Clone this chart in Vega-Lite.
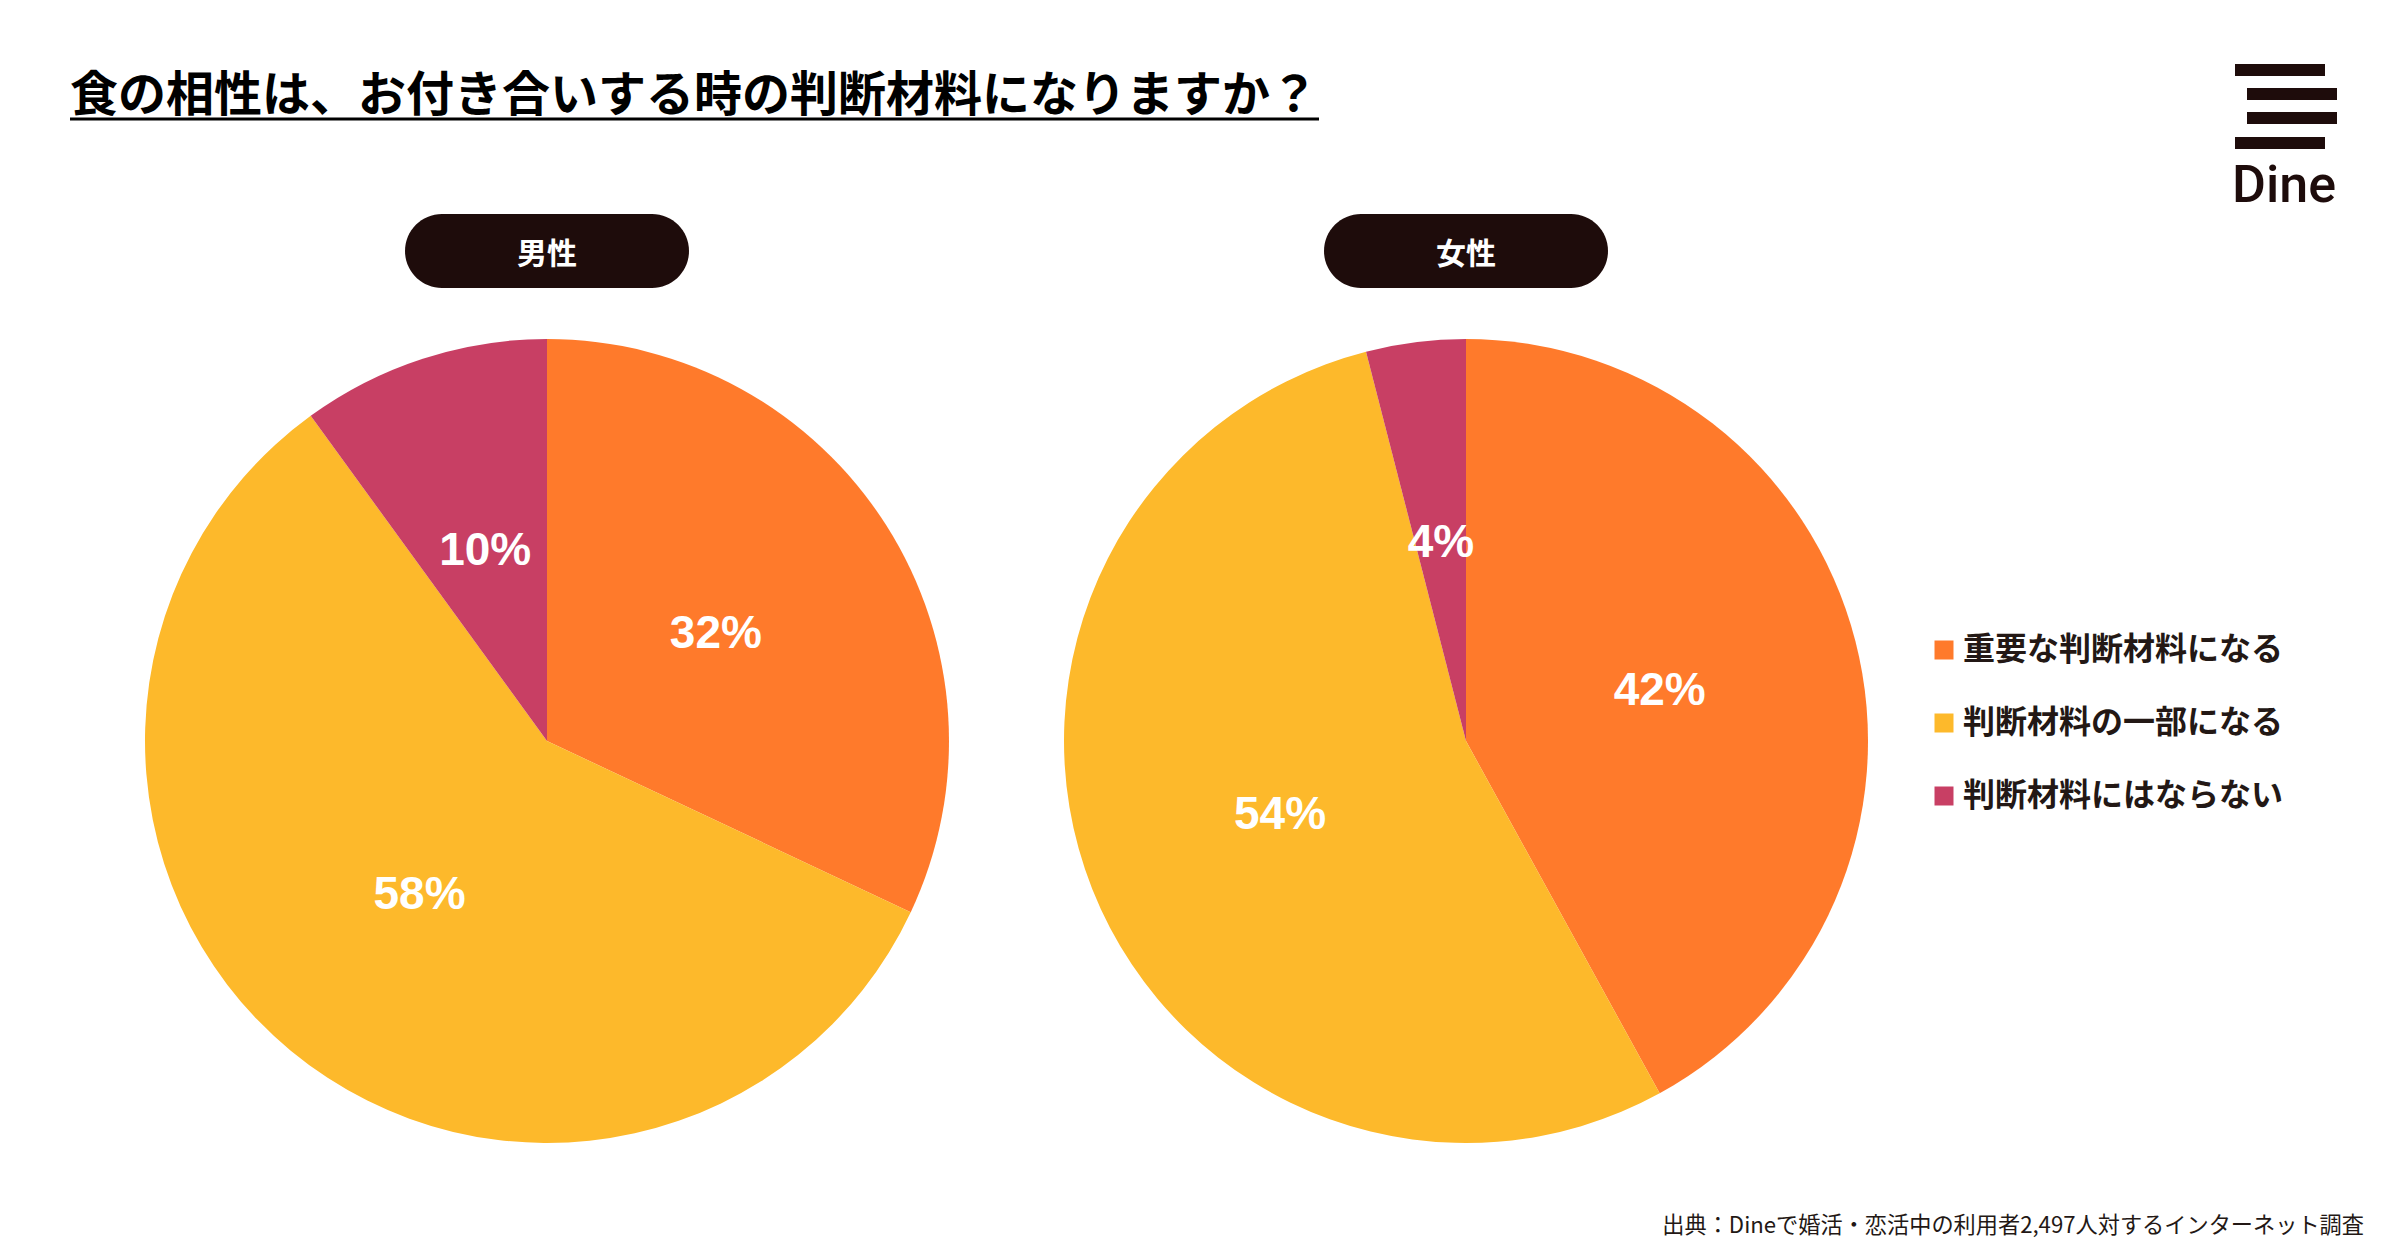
{
  "$schema": "https://vega.github.io/schema/vega-lite/v6.json",
  "width": 2400,
  "height": 1260,
  "padding": 0,
  "autosize": {"type": "none"},
  "background": "#ffffff",
  "config": {"view": {"stroke": null}},
  "data": {
    "values": [
      {"gender": "男性", "answer": "重要な判断材料になる", "share": 0.32},
      {"gender": "男性", "answer": "判断材料の一部になる", "share": 0.58},
      {"gender": "男性", "answer": "判断材料にはならない", "share": 0.10},
      {"gender": "女性", "answer": "重要な判断材料になる", "share": 0.42},
      {"gender": "女性", "answer": "判断材料の一部になる", "share": 0.54},
      {"gender": "女性", "answer": "判断材料にはならない", "share": 0.04}
    ]
  },
  "layer": [
    {
      "transform": [{"filter": "datum.gender === '男性'"}],
      "mark": {"type": "arc", "outerRadius": 402},
      "encoding": {
        "x": {"field": "gender", "type": "nominal", "scale": {"type": "point", "domain": ["男性", "女性"], "range": [547, 1466], "padding": 0}, "axis": null},
        "y": {"field": "gender", "type": "nominal", "scale": {"type": "point", "domain": ["男性", "女性"], "range": [741, 741], "padding": 0}, "axis": null},
        "theta": {"field": "share", "type": "quantitative", "stack": true, "scale": {"domain": [0, 1]}},
        "order": {"field": "answer", "sort": "descending"},
        "color": {
          "field": "answer", "type": "nominal",
          "scale": {"domain": ["重要な判断材料になる", "判断材料の一部になる", "判断材料にはならない"], "range": ["#FF7A2B", "#FDB92B", "#C83F64"]},
          "legend": {
            "orient": "none", "legendX": 1928, "legendY": 634, "title": null,
            "symbolType": "square", "symbolSize": 361, "symbolStrokeWidth": 0,
            "labelFont": "Noto Sans CJK JP", "labelFontSize": 32, "labelFontWeight": "bold", "labelColor": "#231815",
            "labelOffset": 3, "rowPadding": 41, "padding": 0, "labelLimit": 600
          }
        }
      }
    },
    {
      "transform": [{"filter": "datum.gender === '女性'"}],
      "mark": {"type": "arc", "outerRadius": 402},
      "encoding": {
        "x": {"field": "gender", "type": "nominal"},
        "y": {"field": "gender", "type": "nominal"},
        "theta": {"field": "share", "type": "quantitative", "stack": true},
        "order": {"field": "answer", "sort": "descending"},
        "color": {"field": "answer", "type": "nominal"}
      }
    },
    {
      "transform": [{"filter": "datum.gender === '男性'"}],
      "mark": {"type": "text", "radius": 200, "font": "Liberation Sans", "fontWeight": "bold", "fontSize": 46, "color": "#ffffff", "align": "center", "baseline": "middle"},
      "encoding": {
        "x": {"field": "gender", "type": "nominal"},
        "y": {"field": "gender", "type": "nominal"},
        "theta": {"field": "share", "type": "quantitative", "stack": true},
        "order": {"field": "answer", "sort": "descending"},
        "detail": {"field": "answer", "type": "nominal"},
        "text": {"field": "share", "type": "quantitative", "format": ".0%"}
      }
    },
    {
      "transform": [{"filter": "datum.gender === '女性'"}],
      "mark": {"type": "text", "radius": 200, "font": "Liberation Sans", "fontWeight": "bold", "fontSize": 46, "color": "#ffffff", "align": "center", "baseline": "middle"},
      "encoding": {
        "x": {"field": "gender", "type": "nominal"},
        "y": {"field": "gender", "type": "nominal"},
        "theta": {"field": "share", "type": "quantitative", "stack": true},
        "order": {"field": "answer", "sort": "descending"},
        "detail": {"field": "answer", "type": "nominal"},
        "text": {"field": "share", "type": "quantitative", "format": ".0%"}
      }
    },
    {
      "data": {"values": [{"gender": "男性"}, {"gender": "女性"}]},
      "mark": {"type": "bar", "width": 284, "cornerRadius": 37, "color": "#1E0C0B"},
      "encoding": {
        "x": {"field": "gender", "type": "nominal"},
        "y": {"value": 214},
        "y2": {"value": 288}
      }
    },
    {
      "data": {"values": [{"gender": "男性"}, {"gender": "女性"}]},
      "mark": {"type": "text", "font": "Noto Sans CJK JP", "fontWeight": "bold", "fontSize": 30, "color": "#ffffff", "align": "center", "baseline": "middle"},
      "encoding": {
        "x": {"field": "gender", "type": "nominal"},
        "y": {"value": 255},
        "text": {"field": "gender"}
      }
    },
    {
      "data": {"values": [{"t": "食の相性は、お付き合いする時の判断材料になりますか？"}]},
      "mark": {"type": "text", "font": "Noto Sans CJK JP", "fontWeight": "bold", "fontSize": 48, "color": "#000000", "align": "left", "baseline": "middle"},
      "encoding": {"x": {"value": 70}, "y": {"value": 97}, "text": {"field": "t"}}
    },
    {
      "data": {"values": [{}]},
      "mark": {"type": "rule", "color": "#000000", "strokeWidth": 3},
      "encoding": {"x": {"value": 70}, "x2": {"value": 1319}, "y": {"value": 119}}
    },
    {
      "data": {"values": [{}]},
      "mark": {"type": "rect", "color": "#1E0C0B"},
      "encoding": {"x": {"value": 2235}, "x2": {"value": 2325}, "y": {"value": 64}, "y2": {"value": 76}}
    },
    {
      "data": {"values": [{}]},
      "mark": {"type": "rect", "color": "#1E0C0B"},
      "encoding": {"x": {"value": 2247}, "x2": {"value": 2337}, "y": {"value": 88}, "y2": {"value": 100}}
    },
    {
      "data": {"values": [{}]},
      "mark": {"type": "rect", "color": "#1E0C0B"},
      "encoding": {"x": {"value": 2247}, "x2": {"value": 2337}, "y": {"value": 112}, "y2": {"value": 124}}
    },
    {
      "data": {"values": [{}]},
      "mark": {"type": "rect", "color": "#1E0C0B"},
      "encoding": {"x": {"value": 2235}, "x2": {"value": 2325}, "y": {"value": 137}, "y2": {"value": 149}}
    },
    {
      "data": {"values": [{"t": "Dine"}]},
      "mark": {"type": "text", "font": "Roboto", "fontWeight": 500, "fontSize": 52, "color": "#1E0C0B", "align": "left", "baseline": "alphabetic"},
      "encoding": {"x": {"value": 2232}, "y": {"value": 202}, "text": {"field": "t"}}
    },
    {
      "data": {"values": [{"t": "出典：Dineで婚活・恋活中の利用者2,497人対するインターネット調査"}]},
      "mark": {"type": "text", "font": "Noto Sans CJK JP", "fontSize": 22.2, "color": "#231815", "align": "right", "baseline": "middle"},
      "encoding": {"x": {"value": 2364}, "y": {"value": 1226}, "text": {"field": "t"}}
    }
  ]
}
